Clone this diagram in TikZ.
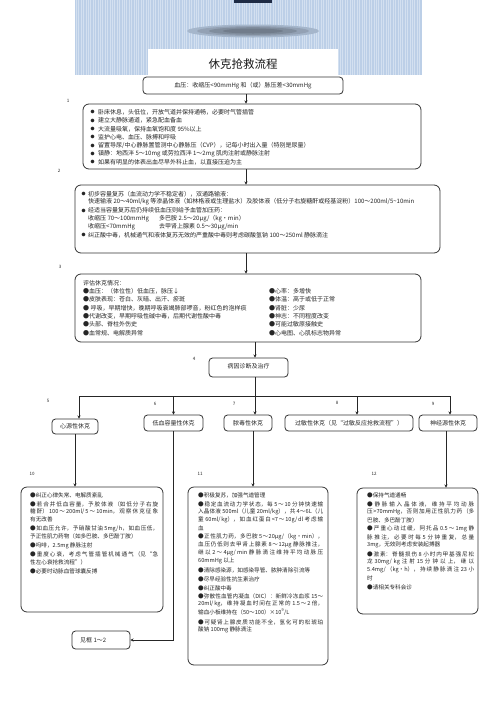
\documentclass[tikz,border=0pt]{standalone}
\usepackage{fontspec}
\setmainfont{Noto Sans CJK SC}
\usetikzlibrary{arrows.meta,shapes.geometric}
\XeTeXlinebreaklocale "zh"
\XeTeXlinebreakskip=0pt plus 1pt
\definecolor{bannerblue}{RGB}{188,207,231}
\definecolor{bannerstripe}{RGB}{211,224,240}
\definecolor{bannerdark}{RGB}{30,43,68}
\newcounter{tn}
\newcommand\jl[2]{\parbox{#1pt}{\parfillskip=0pt\parindent=0pt\XeTeXlinebreakskip=0pt plus 2pt #2\par}}
\newcommand\T[4][]{\stepcounter{tn}\node[txt,#1] (t\arabic{tn}) at (#2,#3) {#4};}
\newcommand\fA{\fontsize{6}{6.5}\selectfont}
\newcommand\fB{\fontsize{5.6}{6}\selectfont}
\begin{document}
\begin{tikzpicture}[x=1pt,y=-1pt,
  box/.style={draw=black!80, line width=0.8pt, rounded corners=3.5pt, inner sep=0pt, fill=white},
  bigbox/.style={box, rounded corners=6pt},
  txt/.style={anchor=west, inner sep=0pt, text=black!85, font=\fA},
  txtB/.style={anchor=west, inner sep=0pt, text=black!85, font=\fB},
  lbl/.style={inner sep=0pt, text=black!85, font=\fontsize{4.5}{5}\selectfont},
  line/.style={draw=black!85, line width=0.8pt},
  arr/.style={line, -{Stealth[length=3.2pt,width=3.2pt]}},
  flat/.style={inner sep=0pt, outer sep=0pt, draw=none}]
\useasboundingbox (0,0) rectangle (496,702);
% banner
\path[fill=bannerblue] (75,0) rectangle (422,75);
\foreach \x in {76,78.4,...,421} {\path[fill=bannerstripe] (\x,0) rectangle ++(0.9,75);}
\node[flat, ellipse, fill=bannerblue!88!black, minimum width=132pt, minimum height=13pt] (sh1) at (253,31) {};
\node[flat, ellipse, fill=bannerblue!78!black, minimum width=112pt, minimum height=10pt] (sh2) at (253,31) {};
\node[flat, ellipse, fill=bannerblue!68!black, minimum width=88pt, minimum height=7.6pt] (sh3) at (253,31) {};
\node[flat, ellipse, fill=bannerblue!60!black, minimum width=60pt, minimum height=5pt] (sh4) at (253,31) {};
\path[fill=bannerdark] (234,0) rectangle (272,3);
\path[fill=white] (148,49) rectangle (338,75);
\node[inner sep=0pt, text=black!90, font=\fontsize{11.5}{12}\selectfont] (title) at (243,64.5) {休克抢救流程};

% boxes
\node[box, minimum width=200pt, minimum height=17pt] (b0) at (243,85.5) {};
\node[bigbox, minimum width=338pt, minimum height=65pt] (b1) at (252,136.5) {};
\node[bigbox, minimum width=365pt, minimum height=68pt] (b2) at (257.5,219) {};
\node[bigbox, minimum width=346pt, minimum height=68pt] (b3) at (248,308) {};
\node[box, minimum width=79pt, minimum height=19pt] (b4) at (248.5,367.5) {};
\node[box, minimum width=46pt, minimum height=15pt] (b5) at (75,426.5) {};
\node[box, minimum width=59pt, minimum height=16pt] (b6) at (173.5,423) {};
\node[box, minimum width=48pt, minimum height=16pt] (b7) at (248,423) {};
\node[box, minimum width=128pt, minimum height=16pt] (b8) at (349,423) {};
\node[box, minimum width=58pt, minimum height=16pt] (b9) at (448,423) {};
\node[bigbox, minimum width=142pt, minimum height=125pt] (b10) at (92,549.5) {};
\node[bigbox, minimum width=140pt, minimum height=178pt] (b11) at (258,576) {};
\node[bigbox, minimum width=121pt, minimum height=126pt] (b12) at (417.5,551) {};
\node[box, minimum width=58pt, minimum height=18pt] (b13) at (101,640) {};

% box texts (centered)
\node[inner sep=0pt, text=black!85, font=\fA] (s0) at (b0) {血压：收缩压<90mmHg 和（或）脉压差<30mmHg};
\node[inner sep=0pt, text=black!85, font=\fA] (s4) at (248.5,366.5) {病因诊断及治疗};
\node[inner sep=0pt, text=black!85, font=\fA] (s5) at (b5) {心源性休克};
\node[inner sep=0pt, text=black!85, font=\fA] (s6) at (b6) {低血容量性休克};
\node[inner sep=0pt, text=black!85, font=\fA] (s7) at (b7) {脓毒性休克};
\node[inner sep=0pt, text=black!85, font=\fA] (s8) at (b8) {过敏性休克（见“过敏反应抢救流程”）};
\node[inner sep=0pt, text=black!85, font=\fA] (s9) at (b9) {神经源性休克};
\T{80}{640}{见框 1～2}

% box 1
\foreach \y in {112,120.5,129,137.3,145.7,154,162.3} {\stepcounter{tn}\node[txt, font=\fontsize{4}{4}\selectfont] (t\arabic{tn}) at (90.5,\y) {●};}
\T{98}{112}{卧床休息，头低位，开放气道并保持通畅，必要时气管插管}
\T{98}{120.5}{建立大静脉通道，紧急配血备血}
\T{98}{129}{大流量吸氧，保持血氧饱和度 95\%以上}
\T{98}{137.3}{监护心电、血压、脉搏和呼吸}
\T{98}{145.7}{留置导尿/中心静脉置管测中心静脉压（CVP），记每小时出入量（特别是尿量）}
\T{98}{154}{镇静：地西泮 5～10mg 或劳拉西泮 1～2mg 肌肉注射或静脉注射}
\T{98}{162.3}{如果有明显的体表出血尽早外科止血，以直接压迫为主}

% box 2
\foreach \y in {194,210.5,235} {\stepcounter{tn}\node[txt, font=\fontsize{4}{4}\selectfont] (t\arabic{tn}) at (81.5,\y) {●};}
\T{88}{194}{初步容量复苏（血流动力学不稳定者），双通路输液：}
\T{88}{202}{快速输液 20～40ml/kg 等渗晶体液（如林格液或生理盐水）及胶体液（低分子右旋糖酐或羟基淀粉）100～200ml/5\textasciitilde10min}
\T{88}{210.5}{经适当容量复苏后仍持续低血压则给予血管加压药：}
\T{88}{218.5}{收缩压 70～100mmHg}
\T{159}{218.5}{多巴胺 2.5～20μg/（kg·min）}
\T{88}{227}{收缩压<70mmHg}
\T{159}{227}{去甲肾上腺素 0.5～30μg/min}
\T{88}{235}{纠正酸中毒，机械通气和液体复苏无效的严重酸中毒则考虑碳酸氢钠 100～250ml 静脉滴注}

% box 3
\T{83}{283}{评估休克情况：}
\T{83}{291.5}{●血压：（体位性）低血压，脉压↓}
\T{83}{299.5}{●皮肤表现：苍白、灰暗、出汗、瘀斑}
\T{83}{308}{● 呼吸，早期增快，晚期呼吸衰竭肺部啰音，粉红色的泡样痰}
\T{83}{316}{●代谢改变，早期呼吸性碱中毒，后期代谢性酸中毒}
\T{83}{324.5}{●头部、脊柱外伤史}
\T{83}{333}{●血常规、电解质异常}
\T{269}{291.5}{●心率：多增快}
\T{269}{299.5}{●体温：高于或低于正常}
\T{269}{308}{●肾脏：少尿}
\T{269}{316}{●神志：不同程度改变}
\T{269}{324.5}{●可能过敏原接触史}
\T{269}{333}{●心电图、心肌标志物异常}

% box 10
\T[txtB]{30}{495}{●纠正心律失常、电解质紊乱}
\T[txtB]{30}{504}{\jl{128}{●若合并低血容量，予胶体液（如低分子右旋}}
\T[txtB]{30}{511.8}{\jl{128}{糖酐）100～200ml/5～10min，观察休克征象}}
\T[txtB]{30}{519.6}{有无改善}
\T[txtB]{30}{528.6}{\jl{128}{●如血压允许，予硝酸甘油 5mg/h，如血压低，}}
\T[txtB]{30}{536.4}{予正性肌力药物（如多巴胺、多巴酚丁胺）}
\T[txtB]{30}{545.4}{●吗啡，2.5mg 静脉注射}
\T[txtB]{30}{554.4}{\jl{128}{●重度心衰，考虑气管插管机械通气（见“急}}
\T[txtB]{30}{562.2}{性左心衰抢救流程”）}
\T[txtB]{30}{571.2}{●必要时动脉血管球囊反搏}

% box 11
\T[txtB]{198}{495}{●积极复苏，加强气道管理}
\T[txtB]{198}{504}{\jl{125}{●稳定血流动力学状态，每 5～10 分钟快速输}}
\T[txtB]{198}{512}{\jl{125}{入晶体液 500ml（儿童 20ml/kg），共 4～6L（儿}}
\T[txtB]{198}{520}{\jl{125}{童 60ml/kg），如血红蛋白<7～10g/dl 考虑输}}
\T[txtB]{198}{528}{血}
\T[txtB]{198}{537}{\jl{125}{●正性肌力药，多巴胺 5～20μg/（kg·min），}}
\T[txtB]{198}{545}{\jl{125}{血压仍低则去甲肾上腺素 8～12μg 静脉推注，}}
\T[txtB]{198}{553}{\jl{125}{继以 2～4μg/min 静脉滴注维持平均动脉压}}
\T[txtB]{198}{561}{60mmHg 以上}
\T[txtB]{198}{570}{●清除感染源，如感染导管、脓肿清除引流等}
\T[txtB]{198}{579}{●尽早经验性抗生素治疗}
\T[txtB]{198}{588}{●纠正酸中毒}
\T[txtB]{198}{596}{\jl{125}{●弥散性血管内凝血（DIC）：新鲜冷冻血浆 15～}}
\T[txtB]{198}{604}{\jl{125}{20ml/kg，维持凝血时间在正常的 1.5～2 倍，}}
\T[txtB]{198}{612}{输血小板维持在（50～100）×10\textsuperscript{9}/L}
\T[txtB]{198}{622}{\jl{125}{●可疑肾上腺皮质功能不全，氢化可的松琥珀}}
\T[txtB]{198}{630}{酸钠 100mg 静脉滴注}

% box 12
\T[txtB]{367}{495}{●保持气道通畅}
\T[txtB]{367}{504}{\jl{107}{●静脉输入晶体液，维持平均动脉}}
\T[txtB]{367}{512}{\jl{107}{压>70mmHg，否则加用正性肌力药（多}}
\T[txtB]{367}{520}{巴胺、多巴酚丁胺）}
\T[txtB]{367}{529}{\jl{107}{●严重心动过缓，阿托品 0.5～1mg 静}}
\T[txtB]{367}{537}{\jl{107}{脉推注，必要时每 5 分钟重复，总量}}
\T[txtB]{367}{545}{3mg，无效则考虑安装起搏器}
\T[txtB]{367}{554}{\jl{107}{●激素：脊髓损伤 8 小时内甲基强尼松}}
\T[txtB]{367}{562}{\jl{107}{龙 30mg/kg 注射 15 分钟以上，继以}}
\T[txtB]{367}{570}{\jl{107}{5.4mg/（kg·h），持续静脉滴注 23 小}}
\T[txtB]{367}{578}{时}
\T[txtB]{367}{587}{●请相关专科会诊}

% labels
\node[lbl] (l1) at (68,101) {1};
\node[lbl] (l2) at (59,171) {2};
\node[lbl] (l3) at (60,267) {3};
\node[lbl] (l4) at (194,359) {4};
\node[lbl] (l5) at (48,401) {5};
\node[lbl] (l6) at (155,404) {6};
\node[lbl] (l7) at (234,404) {7};
\node[lbl] (l8) at (337,403) {8};
\node[lbl] (l9) at (433,404) {9};
\node[lbl] (l10) at (32,474) {10};
\node[lbl] (l11) at (200,474) {11};
\node[lbl] (l12) at (374,474) {12};

% connectors
\coordinate (c1) at (246,0);
\coordinate (c2) at (255,0);
\draw[arr] (b0.south -| c1) -- (b1.north -| c1);
\draw[arr] (b1.south -| c1) -- (b2.north -| c1);
\draw[arr] (b2.south -| c1) -- (b3.north -| c1);
\draw[arr] (b3.south -| c2) -- (b4.north -| c2);
\draw[arr] (b4.south -| c2) -- (b7.north -| c2);
\coordinate (k5) at (79,396);
\coordinate (k6) at (173.5,396);
\coordinate (k8) at (357,396);
\coordinate (k9) at (450,396);
\draw[line] (k5) -- (k9);
\draw[arr] (k5) -- (k5 |- b5.north);
\draw[arr] (k6) -- (k6 |- b6.north);
\draw[arr] (k8) -- (k8 |- b8.north);
\draw[arr] (k9) -- (k9 |- b9.north);
\coordinate (d5) at (75,0);
\coordinate (d7) at (253,0);
\coordinate (d9) at (446,0);
\draw[arr] (b5.south -| d5) -- (b10.north -| d5);
\draw[arr] (b6.south) -- (b6.south |- b13.east) -- (b13.east);
\draw[arr] (b7.south -| d7) -- (b11.north -| d7);
\draw[arr] (b9.south -| d9) -- (b12.north -| d9);
\end{tikzpicture}
\end{document}
